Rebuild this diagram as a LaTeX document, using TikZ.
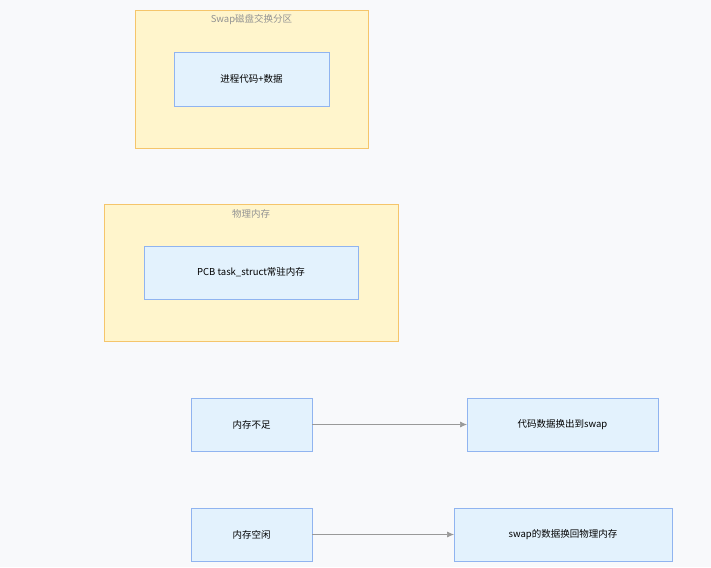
\documentclass[tikz,border=0pt]{standalone}
\usepackage{fontspec}
\setmainfont{Noto Sans CJK SC}
\usepackage{tikz}
\usetikzlibrary{arrows.meta}
\definecolor{bgc}{HTML}{F8F9FB}
\definecolor{clfill}{HTML}{FFF5CC}
\definecolor{cldraw}{HTML}{F5C56B}
\definecolor{ndfill}{HTML}{E3F2FD}
\definecolor{nddraw}{HTML}{90B4F0}
\definecolor{edc}{HTML}{999999}
\tikzset{
  cluster/.style={draw=cldraw,fill=clfill,line width=0.8pt},
  box/.style={draw=nddraw,fill=ndfill,line width=0.8pt,font=\fontsize{9.5}{11}\selectfont},
  ctitle/.style={text=gray!85,font=\fontsize{9.5}{11}\selectfont},
  flow/.style={draw=edc,line width=0.7pt,-{Latex[length=7pt,width=6pt]}}
}
\begin{document}
\begin{tikzpicture}[x=1pt,y=-1pt]
\useasboundingbox[fill=bgc] (0,0) rectangle (711,567);
\draw[cluster] (135,10) rectangle (368,148);
\node[ctitle] (swaptitle) at (251.5,20) {Swap磁盘交换分区};
\draw[cluster] (104,204) rectangle (398,341);
\node[ctitle] (memtitle) at (251,214) {物理内存};

\draw[box] (174,52) rectangle (329,106) node[midway] (code) {进程代码+数据};
\draw[box] (144,246) rectangle (358,299) node[midway] (pcb) {PCB task\_struct常驻内存};
\draw[box] (191,398) rectangle (312,451) node[midway] (low) {内存不足};
\draw[box] (467,398) rectangle (658,451) node[midway] (out) {代码数据换出到swap};
\draw[box] (191,508) rectangle (312,561) node[midway] (idle) {内存空闲};
\draw[box] (454,508) rectangle (672,561) node[midway] (back) {swap的数据换回物理内存};

\coordinate (lowE) at (312,424.5);
\coordinate (outW) at (467,424.5);
\coordinate (idleE) at (312,534.5);
\coordinate (backW) at (454,534.5);
\draw[flow] (lowE) -- (outW);
\draw[flow] (idleE) -- (backW);
\end{tikzpicture}
\end{document}
